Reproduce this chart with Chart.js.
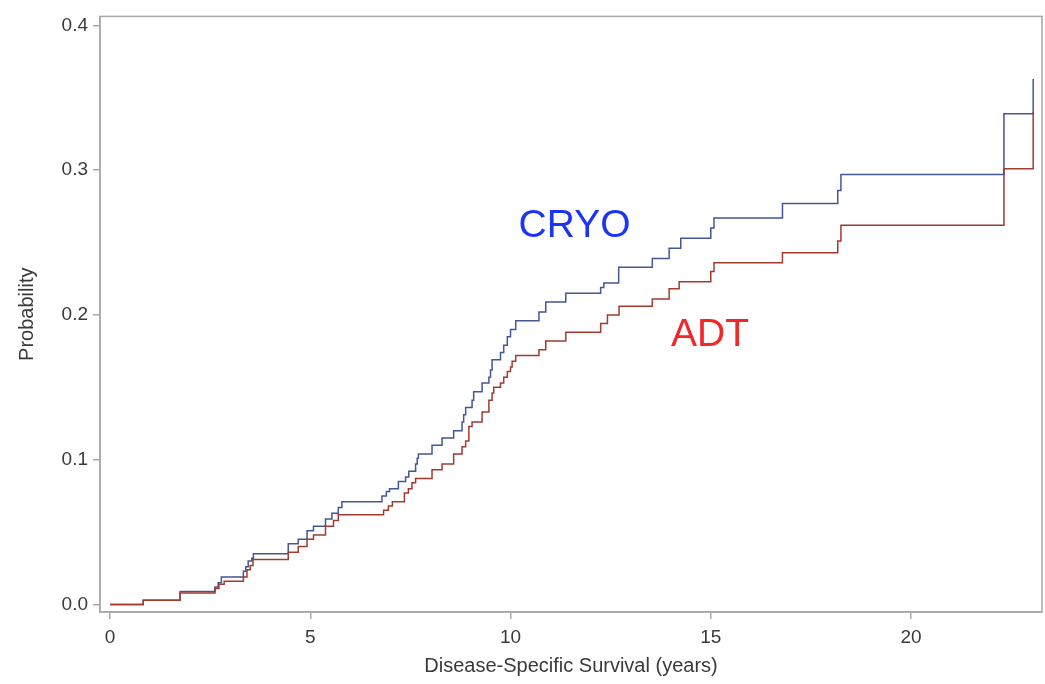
<!DOCTYPE html>
<html>
<head>
<meta charset="utf-8">
<script src="https://cdn.jsdelivr.net/npm/chart.js@4"></script>
<style>
  html, body { margin: 0; padding: 0; background: #fff; }
  #wrap { width: 1045px; height: 684px; }
</style>
</head>
<body>
<div id="wrap"><canvas id="kmChart" width="1045" height="684"></canvas></div>
<script>
// Cumulative incidence, step times (years) and values
const cryoTimes = [0, 0.83, 1.75, 2.62, 2.70, 2.78, 3.33, 3.39, 3.45, 3.54, 3.58, 4.45, 4.70, 4.92, 5.08, 5.38, 5.54, 5.70, 5.79,
    6.79, 6.90, 6.98, 7.20, 7.38, 7.46, 7.63, 7.67, 7.70, 8.04, 8.29, 8.58, 8.79, 8.83, 8.88, 9.04, 9.08, 9.29, 9.46, 9.50,
    9.54, 9.75, 9.83, 9.92, 10.00, 10.13, 10.71, 10.88, 11.38, 12.25, 12.33, 12.70, 13.54, 13.96, 14.25, 15.00, 15.08,
    16.79, 18.17, 18.25, 22.32, 23.05];
const cryoProb = [0, 0.003, 0.009, 0.012, 0.015, 0.019, 0.023, 0.026, 0.030, 0.032, 0.035, 0.042, 0.045, 0.051, 0.054, 0.059, 0.063, 0.067, 0.071,
    0.075, 0.078, 0.080, 0.085, 0.088, 0.092, 0.097, 0.101, 0.104, 0.110, 0.115, 0.120, 0.126, 0.131, 0.136, 0.141, 0.147, 0.153, 0.157, 0.162,
    0.169, 0.174, 0.179, 0.185, 0.190, 0.196, 0.202, 0.209, 0.215, 0.219, 0.222, 0.233, 0.239, 0.246, 0.253, 0.260, 0.267,
    0.277, 0.286, 0.297, 0.339, 0.363];

const adtTimes = [0, 0.83, 1.75, 2.62, 2.72, 2.85, 3.33, 3.42, 3.50, 3.57, 4.45, 4.70, 4.92, 5.08, 5.38, 5.58, 5.70,
    6.83, 6.95, 7.05, 7.35, 7.45, 7.54, 7.63, 8.04, 8.29, 8.58, 8.79, 8.88, 8.96, 9.04, 9.29, 9.46, 9.54, 9.58,
    9.75, 9.83, 9.92, 10.00, 10.04, 10.13, 10.71, 10.88, 11.38, 12.25, 12.42, 12.71, 13.54, 13.96, 14.21, 15.00, 15.08,
    16.79, 18.17, 18.25, 22.32, 23.05];
const adtProb = [0, 0.003, 0.008, 0.011, 0.014, 0.016, 0.019, 0.024, 0.027, 0.031, 0.036, 0.040, 0.045, 0.048, 0.054, 0.058, 0.062,
    0.065, 0.068, 0.071, 0.077, 0.080, 0.084, 0.087, 0.093, 0.097, 0.104, 0.109, 0.113, 0.123, 0.126, 0.133, 0.141, 0.146, 0.150,
    0.153, 0.157, 0.161, 0.164, 0.168, 0.172, 0.176, 0.182, 0.188, 0.194, 0.200, 0.206, 0.211, 0.218, 0.223, 0.230, 0.236,
    0.243, 0.251, 0.262, 0.301, 0.340];

const xTicks = [0, 5, 10, 15, 20];
const yTicks = [0, 0.1, 0.2, 0.3, 0.4];

const labels = [
    { text: 'CRYO', x: 11.6, y: 0.261, color: 'rgb(28,52,245)' },
    { text: 'ADT', x: 14.98, y: 0.186, color: 'rgb(245,38,38)' }
];

const toPoints = (xs, ys) => xs.map((t, i) => ({ x: t, y: ys[i] }));

const axisGray = '#a8a8a8';
const textGray = '#3a3a3a';
const fontFamily = '"Liberation Sans", Arial, Helvetica, sans-serif';

// frame around plot area + in-plot group labels
const framePlugin = {
    id: 'frame',
    afterDraw(chart) {
        const { ctx, chartArea: a, scales } = chart;
        ctx.save();
        ctx.strokeStyle = axisGray;
        ctx.lineWidth = 1.5;
        ctx.strokeRect(a.left, a.top, a.right - a.left, a.bottom - a.top);
        ctx.font = '39px ' + fontFamily;
        ctx.textAlign = 'center';
        ctx.textBaseline = 'middle';
        labels.forEach(l => {
            ctx.fillStyle = l.color;
            ctx.fillText(l.text, scales.x.getPixelForValue(l.x), scales.y.getPixelForValue(l.y));
        });
        ctx.restore();
    }
};

new Chart(document.getElementById('kmChart'), {
    type: 'line',
    data: {
        datasets: [{
            label: 'ADT',
            data: toPoints(adtTimes, adtProb),
            borderColor: '#A23A2E',
            borderWidth: 1.5,
            stepped: true,
            pointRadius: 0,
            fill: false
        }, {
            label: 'CRYO',
            data: toPoints(cryoTimes, cryoProb),
            borderColor: '#445694',
            borderWidth: 1.5,
            stepped: true,
            pointRadius: 0,
            fill: false
        }]
    },
    options: {
        responsive: false,
        animation: false,
        layout: { padding: { top: 15, right: 3, left: 0, bottom: 0 } },
        plugins: {
            legend: { display: false },
            tooltip: { enabled: false }
        },
        scales: {
            x: {
                type: 'linear',
                min: -0.25,
                max: 23.27,
                afterBuildTicks: s => { s.ticks = xTicks.map(v => ({ value: v })); },
                afterFit: s => { s.height = 72; },
                grid: { drawOnChartArea: false, drawTicks: true, tickLength: 7, color: axisGray, lineWidth: 1.5 },
                border: { display: true, color: axisGray, width: 1.5 },
                ticks: { color: textGray, font: { size: 19, family: fontFamily }, padding: 7, maxRotation: 0 },
                title: { display: true, text: 'Disease-Specific Survival (years)', color: textGray,
                    font: { size: 20, family: fontFamily }, padding: { top: 0, bottom: 6 } }
            },
            y: {
                type: 'linear',
                min: -0.0052,
                max: 0.4062,
                afterBuildTicks: s => { s.ticks = yTicks.map(v => ({ value: v })); },
                afterFit: s => { s.width = 100; },
                grid: { drawOnChartArea: false, drawTicks: true, tickLength: 7, color: axisGray, lineWidth: 1.5 },
                border: { display: true, color: axisGray, width: 1.5 },
                ticks: { color: textGray, font: { size: 19, family: fontFamily }, padding: 5,
                    callback: v => v.toFixed(1) },
                title: { display: true, text: 'Probability', color: textGray,
                    font: { size: 20, family: fontFamily }, padding: { top: 15, bottom: 0 } }
            }
        }
    },
    plugins: [framePlugin]
});
</script>
</body>
</html>
